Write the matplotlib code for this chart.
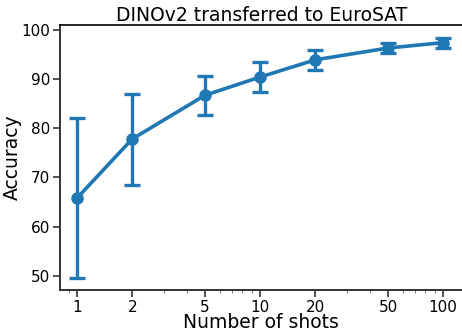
import numpy as np
import matplotlib
matplotlib.use("Agg")
import matplotlib.pyplot as plt
from matplotlib.ticker import FixedLocator, FixedFormatter, NullFormatter

# data
shots = [1, 2, 5, 10, 20, 50, 100]
acc = [65.8, 77.8, 86.7, 90.4, 93.9, 96.3, 97.4]
err_lo = [16.3, 9.3, 4.0, 3.1, 2.1, 1.1, 1.0]
err_hi = [16.2, 9.2, 4.0, 3.1, 2.1, 1.1, 1.0]
tick_labels = ["1", "2", "5", "10", "20", "50", "100"]

fig = plt.figure(figsize=(4.62, 3.28), dpi=100)
# the right edge of the axes sits just outside the figure (cropped in the reference)
ax = fig.add_axes([0.130, 0.116, 0.887, 0.808])

ax.errorbar(shots, acc, yerr=[err_lo, err_hi], color="#1f77b4", lw=2.6,
            marker="o", ms=8, capsize=6, capthick=2.4, elinewidth=2.4)

ax.set_xscale("log")
ax.set_xlim(0.807, 140)
ax.set_ylim(47.1, 101)
ax.xaxis.set_major_locator(FixedLocator(shots))
ax.xaxis.set_major_formatter(FixedFormatter(tick_labels))
ax.xaxis.set_minor_formatter(NullFormatter())
ax.set_yticks([50, 60, 70, 80, 90, 100])

for s in ax.spines.values():
    s.set_color("#333333")
    s.set_linewidth(1.4)
ax.spines["top"].set_color("black")
ax.spines["top"].set_linewidth(1.2)
ax.tick_params(axis="both", which="major", labelsize=11, length=5, width=1.2,
               pad=2, colors="#333333", labelcolor="black")
ax.tick_params(axis="x", which="minor", length=2.5, width=0.7, colors="#777777")

ax.set_xlabel("Number of shots", fontsize=13.5)
ax.xaxis.set_label_coords(0.491, -0.088)
ax.set_ylabel("Accuracy", fontsize=13.5)
ax.yaxis.set_label_coords(-0.094, 0.5)
ax.set_title("DINOv2 transferred to EuroSAT", fontsize=13.5, pad=3, x=0.491)

fig.savefig("out.png", dpi=100)
